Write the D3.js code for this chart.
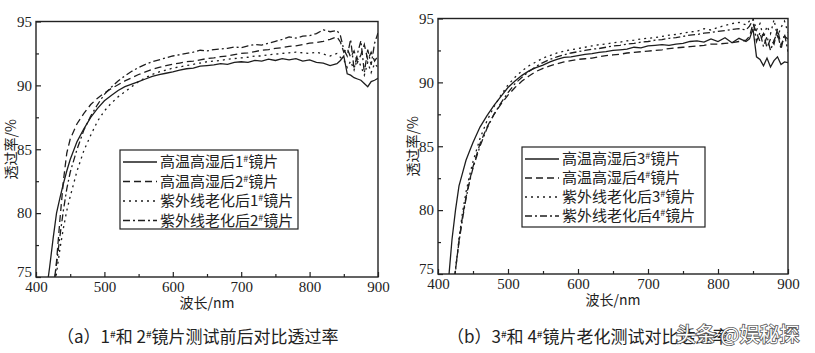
<!DOCTYPE html>
<html>
<head>
<meta charset="utf-8">
<script src="https://cdn.jsdelivr.net/npm/d3@7"></script>
<style>
  body { margin: 0; background: #fff; }
  text { fill: #222; }
</style>
</head>
<body>
<svg id="chart" width="815" height="353"></svg>
<script>
// wavelength grid (nm)
const wl = [410, 415, 420, 425, 430, 435, 440, 445, 450, 460,
            470, 480, 490, 500, 510, 520, 530, 540, 550, 560,
            570, 580, 590, 600, 610, 620, 630, 640, 650, 660,
            670, 680, 690, 700, 710, 720, 730, 740, 750, 760,
            770, 780, 790, 800, 810, 820, 830, 840, 845, 850,
            855, 860, 865, 870, 875, 880, 885, 890, 895, 900];

// (a) transmittance %
const a1 = [71.5, 73.8, 75.8, 78.0, 80.0, 81.2, 82.3, 83.3, 84.2, 85.6,
            86.6, 87.5, 88.2, 88.8, 89.2, 89.6, 89.9, 90.1, 90.3, 90.5,
            90.7, 90.85, 90.95, 91.05, 91.2, 91.3, 91.35, 91.5, 91.55, 91.6,
            91.7, 91.65, 91.8, 91.85, 91.8, 91.95, 91.9, 92.05, 91.95, 92.1,
            92.0, 92.1, 91.9, 92.0, 91.8, 91.75, 91.55, 91.7, 91.95, 92.3,
            90.9, 90.8, 90.6, 90.5, 90.4, 90.15, 89.9, 90.3, 90.4, 90.55];
const a2 = [63, 67, 70.5, 73.8, 76.2, 79.5, 82.5, 84.7, 85.8, 87.0,
            87.8, 88.5, 89.0, 89.4, 89.75, 90.05, 90.35, 90.6, 90.85, 91.05,
            91.25, 91.4, 91.55, 91.65, 91.75, 91.85, 91.9, 92.0, 92.1, 92.15,
            92.25, 92.3, 92.4, 92.5, 92.55, 92.65, 92.75, 92.8, 92.9, 92.95,
            93.05, 93.1, 93.2, 93.3, 93.35, 93.45, 93.6, 93.8, 93.4, 92.6,
            92.9, 92.2, 92.7, 91.8, 92.4, 93.2, 92.0, 92.6, 91.9, 92.3];
const a3 = [62, 66, 70, 73.3, 75.3, 77.2, 78.8, 80.2, 81.3, 83.3,
            84.9, 86.1, 87.2, 88.0, 88.6, 89.1, 89.5, 89.9, 90.3, 90.6,
            90.85, 91.05, 91.2, 91.35, 91.45, 91.55, 91.65, 91.75, 91.85, 91.9,
            91.95, 92.05, 92.1, 92.15, 92.2, 92.3, 92.3, 92.4, 92.45, 92.5,
            92.55, 92.6, 92.55, 92.5, 92.6, 92.45, 92.3, 92.5, 92.2, 92.0,
            91.4, 91.9, 91.2, 92.1, 91.5, 90.8, 91.8, 91.0, 91.7, 91.4];
const a4 = [63, 67, 70.5, 73.8, 76.0, 78.2, 80.2, 81.9, 83.2, 85.0,
            86.5, 87.6, 88.5, 89.3, 89.85, 90.35, 90.75, 91.1, 91.4, 91.65,
            91.85, 92.0, 92.15, 92.3, 92.4, 92.5, 92.6, 92.75, 92.7, 92.8,
            92.85, 92.9, 93.0, 92.95, 93.1, 93.2, 93.15, 93.3, 93.45, 93.6,
            93.8, 93.7, 93.85, 93.9, 94.05, 94.35, 94.2, 94.3, 93.9, 92.8,
            92.3, 93.6, 91.3, 92.5, 93.5, 91.0, 92.8, 91.6, 93.3, 94.1];

// (b) transmittance %
const b1 = [71.8, 74.5, 77.7, 80.0, 81.9, 82.9, 83.9, 84.6, 85.3, 86.5,
            87.4, 88.2, 88.9, 89.6, 90.1, 90.55, 90.9, 91.15, 91.35, 91.6,
            91.8, 91.95, 92.0, 92.1, 92.2, 92.25, 92.35, 92.4, 92.5, 92.55,
            92.6, 92.75, 92.7, 92.85, 92.9, 92.95, 92.9, 93.0, 93.05, 93.2,
            93.25, 93.15, 93.4, 93.2, 93.5, 93.1, 93.45, 93.2, 93.4, 94.2,
            92.0, 91.8, 91.3, 91.9, 91.2, 91.7, 92.0, 91.4, 91.6, 91.55];
const b2 = [67, 70, 72.8, 75.3, 77.6, 79.5, 81.0, 82.3, 83.4, 85.2,
            86.5, 87.5, 88.3, 89.0, 89.6, 90.1, 90.5, 90.85, 91.1, 91.3,
            91.45, 91.6, 91.7, 91.8, 91.85, 91.9, 92.0, 92.1, 92.15, 92.2,
            92.3, 92.35, 92.4, 92.45, 92.5, 92.55, 92.65, 92.7, 92.75, 92.8,
            92.85, 92.9, 93.0, 93.0, 93.05, 93.1, 93.2, 93.3, 93.6, 94.6,
            93.9, 93.2, 93.8, 92.7, 93.4, 93.0, 94.2, 92.9, 93.6, 93.4];
const b3 = [66, 69.5, 72.5, 75.2, 77.8, 79.8, 81.4, 82.7, 83.8, 85.6,
            87.0, 88.1, 89.0, 89.8, 90.4, 90.9, 91.3, 91.6, 91.9, 92.1,
            92.3, 92.45, 92.55, 92.65, 92.75, 92.85, 92.95, 93.0, 93.1, 93.15,
            93.25, 93.3, 93.4, 93.45, 93.5, 93.6, 93.7, 93.75, 93.85, 93.95,
            94.0, 94.2, 94.1, 94.3, 94.45, 94.6, 94.7, 94.5, 94.8, 95.0,
            94.1, 94.6, 93.5, 94.4, 93.8, 94.9, 93.6, 94.3, 94.8, 93.9];
const b4 = [66.5, 70, 72.8, 75.4, 77.5, 79.3, 80.9, 82.2, 83.3, 85.0,
            86.4, 87.5, 88.4, 89.2, 89.9, 90.4, 90.85, 91.25, 91.55, 91.8,
            92.0, 92.15, 92.3, 92.4, 92.5, 92.6, 92.65, 92.75, 92.85, 92.9,
            93.0, 93.05, 93.15, 93.2, 93.3, 93.35, 93.45, 93.5, 93.6, 93.7,
            93.75, 93.85, 93.9, 94.0, 94.05, 94.15, 94.2, 94.1, 94.4, 94.9,
            93.2, 93.9, 92.8, 93.6, 92.5, 93.3, 93.9, 92.6, 93.8, 92.4];

const namesA = ['高温高湿后1#镜片', '高温高湿后2#镜片', '紫外线老化后1#镜片', '紫外线老化后2#镜片'];
const namesB = ['高温高湿后3#镜片', '高温高湿后4#镜片', '紫外线老化后3#镜片', '紫外线老化后4#镜片'];
const xTicks = [400, 500, 600, 700, 800, 900];
const xMinor = [450, 550, 650, 750, 850];
const yTicks = [75, 80, 85, 90, 95];
const yMinor = [77.5, 82.5, 87.5, 92.5];
const captionA = '（a）1#和 2#镜片测试前后对比透过率';
const captionB = '（b）3#和 4#镜片老化测试对比透过率';

const dashes = [null, '7,4', '2,4', '7,3,2,3'];
const serif = '"Liberation Serif", "DejaVu Serif", serif';
const cjk = '"Noto Sans CJK SC", sans-serif';

const svg = d3.select('#chart');

// text with "#" drawn as superscript
function richText(sel, str, size) {
    const parts = str.split('#');
    parts.forEach((p, i) => {
        sel.append('tspan').attr('dy', i > 0 ? 5 : null).text(p);
        if (i < parts.length - 1) {
            sel.append('tspan').attr('font-size', size * 0.6).attr('dy', -5).text('#');
        }
    });
}

function drawPanel(p) {
    const x = d3.scaleLinear().domain([400, 900]).range([p.left, p.right]);
    const y = d3.scaleLinear().domain([75, 95]).range([p.bottom, p.top]);

    svg.append('clipPath').attr('id', 'clip-' + p.id)
        .append('rect')
        .attr('x', p.left).attr('y', p.top)
        .attr('width', p.right - p.left).attr('height', p.bottom - p.top);

    const line = d3.line()
        .x((d, i) => x(wl[i]))
        .y(d => y(d));

    p.series.forEach((s, k) => {
        svg.append('path')
            .datum(s)
            .attr('clip-path', 'url(#clip-' + p.id + ')')
            .attr('fill', 'none')
            .attr('stroke', '#1e1e1e')
            .attr('stroke-width', 1.3)
            .attr('stroke-dasharray', dashes[k])
            .attr('d', line);
    });

    // frame
    svg.append('rect')
        .attr('x', p.left).attr('y', p.top)
        .attr('width', p.right - p.left).attr('height', p.bottom - p.top)
        .attr('fill', 'none').attr('stroke', '#222').attr('stroke-width', 1.4);

    // axes, ticks pointing inward
    const gx = svg.append('g').attr('transform', 'translate(0,' + p.bottom + ')')
        .call(d3.axisBottom(x).tickValues(xTicks).tickSize(-5).tickPadding(4).tickFormat(d3.format('d')));
    svg.append('g').attr('transform', 'translate(0,' + p.bottom + ')')
        .call(d3.axisBottom(x).tickValues(xMinor).tickSize(-3).tickFormat(''));
    const gy = svg.append('g').attr('transform', 'translate(' + p.left + ',0)')
        .call(d3.axisLeft(y).tickValues(yTicks).tickSize(-5).tickPadding(4).tickFormat(d3.format('d')));
    svg.append('g').attr('transform', 'translate(' + p.left + ',0)')
        .call(d3.axisLeft(y).tickValues(yMinor).tickSize(-3).tickFormat(''));

    svg.selectAll('.domain').remove();
    svg.selectAll('.tick line').attr('stroke', '#222').attr('stroke-width', 1.2);
    [gx, gy].forEach(g => g.selectAll('text')
        .attr('font-family', serif).attr('font-size', 15).style('fill', '#222'));
    // lowest y label sits a little higher so it clears "400"
    gy.selectAll('.tick').filter(d => d === 75).select('text').attr('dy', '-0.05em');

    // axis titles
    svg.append('text')
        .attr('x', (p.left + p.right) / 2).attr('y', p.bottom + 31)
        .attr('text-anchor', 'middle')
        .attr('font-family', cjk).attr('font-size', 14)
        .text('波长/nm');
    svg.append('text')
        .attr('transform', 'translate(' + (p.left - 20) + ',' + ((p.top + p.bottom) / 2) + ') rotate(-90)')
        .attr('text-anchor', 'middle')
        .attr('font-family', cjk).attr('font-size', 14)
        .text('透过率/%');

    // legend
    const lg = p.legend;
    svg.append('rect')
        .attr('x', lg.x).attr('y', lg.y).attr('width', lg.w).attr('height', lg.h)
        .attr('fill', '#fff').attr('stroke', '#222').attr('stroke-width', 1.2);
    p.names.forEach((n, k) => {
        const ry = lg.y + 12 + k * lg.step;
        svg.append('line')
            .attr('x1', lg.x + 3).attr('x2', lg.x + 37)
            .attr('y1', ry).attr('y2', ry)
            .attr('stroke', '#1e1e1e').attr('stroke-width', 1.4)
            .attr('stroke-dasharray', dashes[k]);
        const t = svg.append('text')
            .attr('x', lg.x + 40).attr('y', ry + 5)
            .attr('font-family', cjk).attr('font-size', 15);
        richText(t, n, 15);
    });

    // caption
    const c = svg.append('text')
        .attr('x', p.capX).attr('y', 343)
        .attr('font-family', cjk).attr('font-size', 17);
    richText(c, p.caption, 17);
}

drawPanel({
    id: 'a', left: 36, right: 378, top: 21.5, bottom: 277,
    series: [a1, a2, a3, a4], names: namesA, caption: captionA, capX: 57,
    legend: { x: 120, y: 150, w: 178, h: 79, step: 19.5 }
});
drawPanel({
    id: 'b', left: 438, right: 788, top: 18.5, bottom: 274,
    series: [b1, b2, b3, b4], names: namesB, caption: captionB, capX: 447,
    legend: { x: 522, y: 147, w: 183, h: 80, step: 19 }
});

// watermark
svg.append('text')
    .attr('x', 676).attr('y', 342)
    .attr('font-family', cjk).attr('font-size', 20)
    .attr('stroke', '#555').attr('stroke-width', 1.6)
    .attr('paint-order', 'stroke')
    .style('fill', '#fff')
    .text('头条 @娱秘探');
</script>
</body>
</html>
